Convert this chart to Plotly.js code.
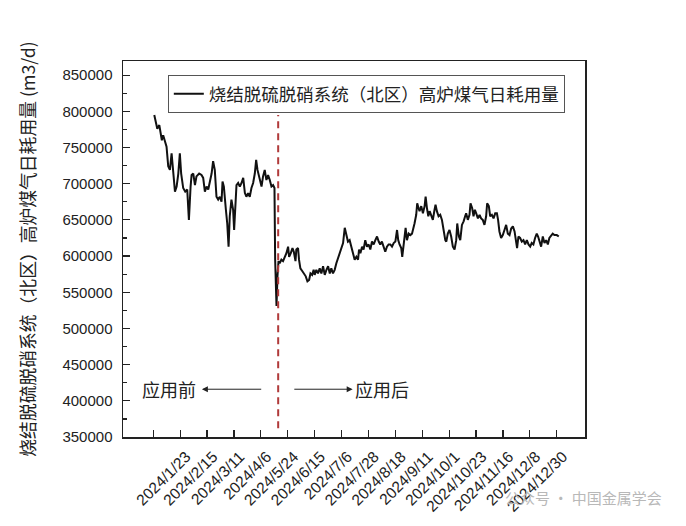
<!DOCTYPE html>
<html>
<head>
<meta charset="utf-8">
<script src="https://cdn.plot.ly/plotly-3.0.1.min.js"></script>
<style>html,body{margin:0;padding:0;background:#fff;}#chart{width:686px;height:526px;}</style>
</head>
<body>
<div id="chart"></div>
<script>
// sample position (16 samples per tick interval) and daily consumption (m3/d)
const sampleX = [0.6,1.6,2.4,3.6,4.4,5.1,5.9,6.9,7.9,8.9,9.9,10.9,11.9,12.9,13.9,14.9,15.8,16.6,17.8,19.0,20.2,21.2,22.2,22.8,23.8,24.8,25.7,27.3,28.7,29.7,30.7,31.7,32.7,33.7,34.7,35.6,36.6,37.6,38.6,39.6,40.6,41.2,42.0,43.2,44.0,44.8,45.5,46.5,47.5,48.1,48.9,49.5,50.5,51.5,52.5,53.5,54.5,55.4,56.4,57.4,58.4,59.4,60.4,61.2,62.0,62.8,63.4,64.4,65.3,66.3,67.3,68.3,69.3,70.3,71.3,72.1,72.5,73.3,73.9,74.5,75.2,76.2,77.2,78.2,79.2,80.2,80.8,81.8,82.8,83.6,84.6,85.1,86.1,86.7,87.5,88.7,89.5,90.7,91.7,92.7,93.5,94.5,95.4,96.0,97.0,98.0,99.0,100.0,101.0,102.0,103.0,104.0,105.0,105.9,106.9,107.9,108.9,109.9,110.9,111.9,112.9,113.9,114.9,115.8,116.8,117.8,118.8,119.8,120.8,121.8,122.4,123.2,124.2,125.1,126.1,127.1,128.1,129.1,130.1,131.1,132.1,133.1,134.1,135.0,136.0,137.0,138.0,139.0,140.0,141.0,142.0,143.0,144.0,145.0,145.7,146.5,147.5,148.1,148.9,149.5,150.1,150.9,151.9,152.9,153.9,154.5,155.4,156.4,157.0,157.8,158.4,159.4,160.4,161.4,162.0,162.8,163.6,164.4,165.3,166.3,167.3,167.9,168.7,169.7,170.7,171.7,172.7,173.7,174.3,175.2,176.2,177.2,178.2,179.2,180.2,180.8,181.8,182.6,183.6,184.6,185.5,186.1,187.1,188.1,188.7,189.7,190.5,191.3,192.1,193.1,194.1,195.0,196.0,197.0,198.0,198.6,199.6,200.4,201.4,202.4,203.4,204.4,205.1,205.9,206.9,207.9,208.9,209.9,210.9,211.9,212.9,213.9,214.9,215.8,216.4,217.2,218.2,219.2,220.2,221.2,222.2,223.2,224.2,225.1,226.1,227.1,228.1,228.9,229.7,230.7,231.7,232.7,233.7,234.7,235.6,236.6,237.6,238.6,240.0,241.2];
const gasUse = [795000,781000,776000,781000,772000,760000,767000,758000,751000,724000,719000,742000,710000,689000,696000,714000,742000,714000,694000,689000,692000,650000,696000,712000,714000,698000,710000,714000,712000,708000,689000,696000,692000,701000,714000,731000,719000,682000,678000,682000,675000,703000,696000,664000,645000,613000,655000,678000,664000,636000,678000,698000,701000,696000,701000,708000,687000,682000,687000,682000,694000,701000,714000,733000,719000,712000,703000,696000,710000,719000,705000,712000,705000,696000,698000,694000,595000,531000,573000,593000,590000,595000,593000,599000,604000,613000,599000,604000,611000,606000,593000,609000,611000,595000,583000,579000,576000,572000,565000,567000,576000,574000,581000,574000,581000,576000,583000,576000,586000,574000,581000,586000,576000,583000,576000,581000,590000,597000,604000,609000,618000,639000,627000,620000,622000,613000,606000,595000,599000,595000,609000,604000,613000,609000,622000,613000,616000,609000,620000,616000,622000,627000,620000,616000,620000,613000,606000,613000,616000,616000,613000,618000,620000,636000,622000,616000,611000,599000,620000,627000,639000,622000,631000,629000,631000,639000,645000,657000,673000,666000,662000,669000,659000,669000,682000,666000,655000,662000,657000,650000,664000,671000,662000,655000,657000,650000,636000,622000,620000,631000,636000,627000,613000,609000,622000,645000,627000,622000,643000,648000,655000,659000,650000,657000,673000,666000,655000,664000,659000,652000,657000,652000,650000,643000,655000,673000,669000,655000,657000,652000,659000,659000,650000,634000,625000,629000,636000,643000,631000,629000,638000,641000,634000,620000,611000,627000,625000,620000,622000,616000,622000,616000,613000,618000,616000,625000,631000,627000,620000,613000,627000,618000,622000,616000,625000,629000,631000,629000,629000,627000];

const tickPositions = [0,16,32,48,64,80,96,112,128,144,160,176,192,208,224,240];
const tickLabels = ["","2024/1/23","2024/2/15","2024/3/11","2024/4/6","2024/5/24","2024/6/15","2024/7/6","2024/7/28","2024/8/18","2024/9/11","2024/10/1","2024/10/23","2024/11/16","2024/12/8","2024/12/30"];

const seriesName = "烧结脱硫脱硝系统（北区）高炉煤气日耗用量";
const yTitle = "烧结脱硫脱硝系统（北区）高炉煤气日耗用量 (m3/d)";
const applyX = 74.3;          // application point (sample position)
const applyYSpan = [362000, 795000];
const beforeLabel = "应用前", afterLabel = "应用后";
const labelY = 416000;

const cjk = '"Noto Sans CJK SC", "Noto Sans", sans-serif';
const latin = '"Liberation Sans", Arial, sans-serif';

const trace = {
  x: sampleX, y: gasUse, type: 'scatter', mode: 'lines', name: seriesName,
  line: {color: '#111', width: 2}
};

const layout = {
  width: 686, height: 526,
  margin: {l: 123, r: 101, t: 61, b: 89},
  paper_bgcolor: '#fff', plot_bgcolor: '#fff',
  showlegend: true,
  legend: {x: 0.097, y: 0.963, xanchor: 'left', yanchor: 'top',
    bordercolor: '#555', borderwidth: 1, bgcolor: '#fff',
    font: {family: cjk, size: 17.5, color: '#222'}, itemwidth: 30,
    tracegroupgap: 0},
  xaxis: {
    range: [-18, 256.8], tickmode: 'array', tickvals: tickPositions, ticktext: tickLabels,
    tickangle: -45, ticks: 'inside', ticklen: 7, tickwidth: 1.2, tickcolor: '#222',
    showline: true, linecolor: '#222', linewidth: 1.5, mirror: true,
    showgrid: false, zeroline: false, ticklabelshift: 6, ticklabelstandoff: 3,
    tickfont: {family: latin, size: 15.5, color: '#222'}
  },
  yaxis: {
    range: [350000, 869500], tickmode: 'linear', tick0: 350000, dtick: 50000, tickformat: 'd',
    ticks: 'inside', ticklen: 7, tickwidth: 1.2, tickcolor: '#222',
    minor: {dtick: 25000, ticks: 'inside', ticklen: 4, tickcolor: '#222', tickwidth: 1.2, showgrid: false},
    showline: true, linecolor: '#222', linewidth: 1.5, mirror: true,
    showgrid: false, zeroline: false, ticklabelstandoff: 6,
    tickfont: {family: latin, size: 15, color: '#222'},
    title: {text: yTitle, font: {family: cjk, size: 17.8, color: '#222'}, standoff: 22}
  },
  shapes: [{
    type: 'line', xref: 'x', yref: 'y', x0: applyX, x1: applyX, y0: applyYSpan[0], y1: applyYSpan[1],
    line: {color: '#b03a3a', width: 2, dash: '7px,5px'}
  }],
  annotations: [
    {xref: 'x', yref: 'y', x: 9.6, y: labelY, text: beforeLabel, showarrow: false,
     font: {family: cjk, size: 18, color: '#222'}},
    {xref: 'x', yref: 'y', x: 136.1, y: labelY, text: afterLabel, showarrow: false,
     font: {family: cjk, size: 18, color: '#222'}},
    {xref: 'x', yref: 'y', x: 28.9, y: labelY, ax: 65.1, ay: labelY, axref: 'x', ayref: 'y',
     text: '', showarrow: true, arrowhead: 2, arrowsize: 1.2, arrowwidth: 1, arrowcolor: '#222'},
    {xref: 'x', yref: 'y', x: 118.6, y: labelY, ax: 83.0, ay: labelY, axref: 'x', ayref: 'y',
     text: '', showarrow: true, arrowhead: 2, arrowsize: 1.2, arrowwidth: 1, arrowcolor: '#222'},
    {xref: 'paper', yref: 'paper', x: 1.17, y: -0.16, xanchor: 'right', yanchor: 'middle',
     text: '公众号 · 中国金属学会', showarrow: false,
     font: {family: cjk, size: 15, color: '#b8b8b8'}}
  ]
};

Plotly.newPlot('chart', [trace], layout, {displayModeBar: false, staticPlot: true});
</script>
</body>
</html>
